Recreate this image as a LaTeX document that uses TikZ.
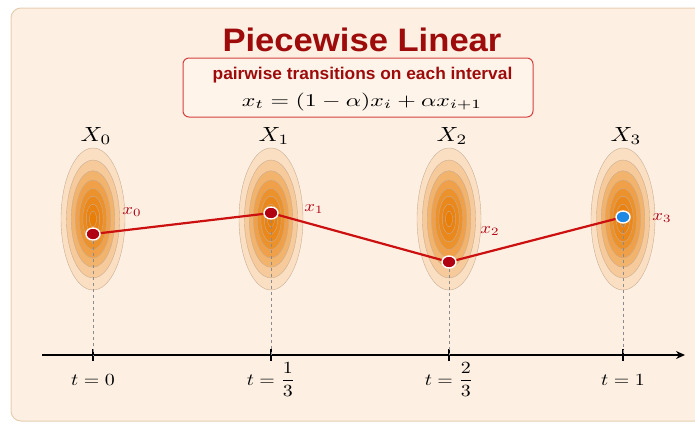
\documentclass[tikz,border=0pt]{standalone}
\usepackage{amsmath}
\usepackage{fontspec}
\setsansfont{Liberation Sans}
\usepackage{tikz}
\usetikzlibrary{arrows.meta,positioning,shapes.geometric}
\usepackage{xcolor}
\definecolor{panelbg}{HTML}{FDF0E3}
\definecolor{paneledge}{HTML}{E6CDB2}
\definecolor{titlered}{HTML}{9E0B0B}
\definecolor{linered}{HTML}{CC1010}
\definecolor{dotred}{HTML}{B00012}
\definecolor{dotblue}{HTML}{1E88E5}
\definecolor{gaussorange}{HTML}{E87A00}
\definecolor{ringedge}{HTML}{B89270}

\begin{document}
\begin{tikzpicture}[
  x=1pt, y=-1pt,
  % math labels: 10pt text, stretched to the reference's size
  bigmath/.style={inner sep=0pt, xscale=2.4, yscale=2.05},
  midmath/.style={inner sep=0pt, xscale=1.99, yscale=1.7},
  eqmath/.style={inner sep=0pt, xscale=2.38, yscale=1.8},
  smallmath/.style={inner sep=0pt, xscale=1.87, yscale=1.6, text=dotred},
  ring/.style={draw=ringedge!75, line width=0.4pt},
  dot/.style={circle, draw=white, line width=1.4pt, fill=dotred, minimum size=12pt, inner sep=0pt, xscale=1.17},
  seg/.style={draw=linered, line width=2.2pt},
  guide/.style={draw=black!45, dashed, line width=0.6pt},
  axis/.style={line width=1.6pt, -{Stealth[length=9pt,width=8pt]}},
  tick/.style={line width=1.6pt}
]
  \useasboundingbox (0,0) rectangle (695,423);
  % panel
  \draw[fill=panelbg, draw=paneledge, line width=1pt, rounded corners=10pt] (11,8) rectangle (712,421);

  % title and rule
  \node[inner sep=0pt, anchor=base, xscale=1.065, text=titlered,
        font=\sffamily\bfseries\fontsize{32.5}{34}\selectfont] (title) at (362,51) {Piecewise Linear};
  \node[draw=linered!80, line width=1pt, fill=panelbg!75!white, rounded corners=6pt,
        minimum width=350pt, minimum height=59pt] (rulebox) at (358,87.5) {};
  \node[inner sep=0pt, anchor=base, xscale=1.02, text=titlered,
        font=\sffamily\bfseries\fontsize{17}{18}\selectfont] (sub) at (362.5,79) {pairwise transitions on each interval};
  \node[eqmath, anchor=base] (eq) at (362,106) {$x_t = (1-\alpha)x_i + \alpha x_{i+1}$};

  % marginals
  \foreach \gx [count=\i from 0] in {93,271,449,623}{
    \coordinate (g\i) at (\gx,219);
    \foreach \r/\p in {1/14,0.83/32,0.68/52,0.55/68,0.43/80,0.32/88,0.21/93,0.11/97}
      \draw[ring, fill=gaussorange!\p!panelbg] (g\i) ellipse ({32*\r pt} and {71*\r pt});
    \node[bigmath, anchor=base] (X\i) at (\gx+3,141) {$X_\i$};
    \coordinate (t\i) at (\gx,355);
  }

  % time axis
  \coordinate (ax0) at (42,355);
  \coordinate (ax1) at (685,355);
  \draw[axis] (ax0) -- (ax1);
  \foreach \i in {0,...,3}
    \draw[tick] (t\i) ++(0,-6) -- ++(0,12);
  \node[midmath, anchor=base] (tl0) at (93,385) {$t=0$};
  \node[midmath, anchor=base] (tl1) at (271,385) {$t=\dfrac{1}{3}$};
  \node[midmath, anchor=base] (tl2) at (449,385) {$t=\dfrac{2}{3}$};
  \node[midmath, anchor=base] (tl3) at (623,385) {$t=1$};

  % path through the samples
  \node[dot] (p0) at (93,234) {};
  \node[dot] (p1) at (271,213) {};
  \node[dot] (p2) at (449,262) {};
  \node[dot, fill=dotblue] (p3) at (623,217) {};
  \foreach \i in {0,...,3}
    \draw[guide] (p\i) -- (t\i);
  \draw[seg] (p0) -- (p1) -- (p2) -- (p3);

  \node[smallmath] (x0) at (132,212) {$x_0$};
  \node[smallmath] (x1) at (314,209) {$x_1$};
  \node[smallmath] (x2) at (490,231) {$x_2$};
  \node[smallmath] (x3) at (662,218) {$x_3$};
\end{tikzpicture}
\end{document}
